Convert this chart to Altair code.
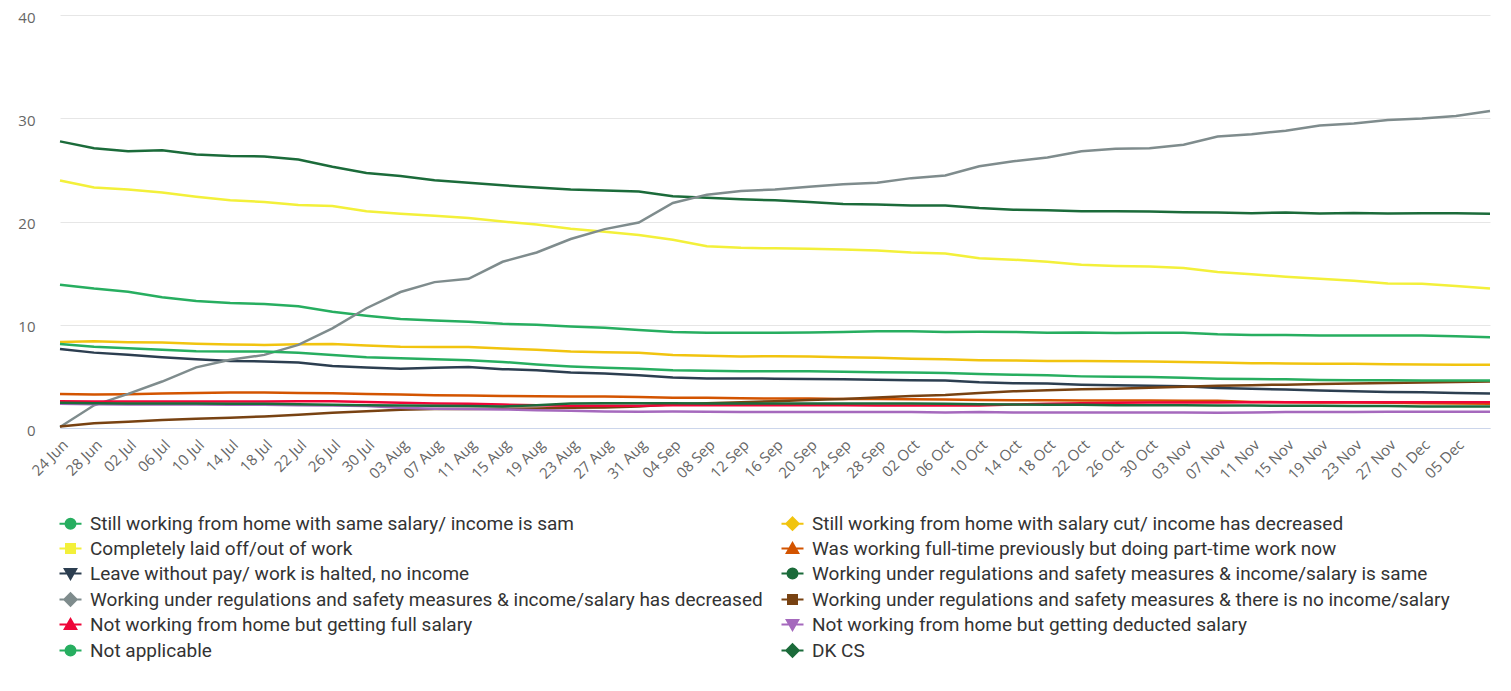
import altair as alt
import pandas as pd

DATES = [
    "2020-06-24", "2020-06-28", "2020-07-02", "2020-07-06", "2020-07-10", "2020-07-14",
    "2020-07-18", "2020-07-22", "2020-07-26", "2020-07-30", "2020-08-03", "2020-08-07",
    "2020-08-11", "2020-08-15", "2020-08-19", "2020-08-23", "2020-08-27", "2020-08-31",
    "2020-09-04", "2020-09-08", "2020-09-12", "2020-09-16", "2020-09-20", "2020-09-24",
    "2020-09-28", "2020-10-02", "2020-10-06", "2020-10-10", "2020-10-14", "2020-10-18",
    "2020-10-22", "2020-10-26", "2020-10-30", "2020-11-03", "2020-11-07", "2020-11-11",
    "2020-11-15", "2020-11-19", "2020-11-23", "2020-11-27", "2020-12-01", "2020-12-05",
    "2020-12-09",
]

TICK_DATES = [
    "2020-06-24", "2020-06-28", "2020-07-02", "2020-07-06", "2020-07-10", "2020-07-14",
    "2020-07-18", "2020-07-22", "2020-07-26", "2020-07-30", "2020-08-03", "2020-08-07",
    "2020-08-11", "2020-08-15", "2020-08-19", "2020-08-23", "2020-08-27", "2020-08-31",
    "2020-09-04", "2020-09-08", "2020-09-12", "2020-09-16", "2020-09-20", "2020-09-24",
    "2020-09-28", "2020-10-02", "2020-10-06", "2020-10-10", "2020-10-14", "2020-10-18",
    "2020-10-22", "2020-10-26", "2020-10-30", "2020-11-03", "2020-11-07", "2020-11-11",
    "2020-11-15", "2020-11-19", "2020-11-23", "2020-11-27", "2020-12-01", "2020-12-05",
]

Y_TICKS = [0, 10, 20, 30, 40]

SERIES = [
    "Still working from home with same salary/ income is sam",
    "Still working from home with salary cut/ income has decreased",
    "Completely laid off/out of work",
    "Was working full-time previously but doing part-time work now",
    "Leave without pay/ work is halted, no income",
    "Working under regulations and safety measures & income/salary is same",
    "Working under regulations and safety measures & income/salary has decreased",
    "Working under regulations and safety measures & there is no income/salary",
    "Not working from home but getting full salary",
    "Not working from home but getting deducted salary",
    "Not applicable",
    "DK CS",
]

COLORS = [
    "#27ae60", "#f1c40f", "#f3f03a", "#d35400", "#2c3e50", "#1b6b3a",
    "#7f8c8d", "#784212", "#ee0638", "#a569bd", "#27ae60", "#1b6b3a",
]

CIRCLE = "M-2.2,0H2.2M-1,0A1,1,0,1,0,1,0A1,1,0,1,0,-1,0Z"
DIAMOND = "M-2.2,0H2.2M0,-1.25L1.25,0L0,1.25L-1.25,0Z"
SQUARE = "M-2.2,0H2.2M-0.9,-0.9H0.9V0.9H-0.9Z"
TRIANGLE = "M-2.2,0H2.2M0,-1.1L1.15,0.9H-1.15Z"
TRIANGLE_DOWN = "M-2.2,0H2.2M0,1.1L1.15,-0.9H-1.15Z"
SHAPES = [CIRCLE, DIAMOND, SQUARE, TRIANGLE, TRIANGLE_DOWN,
          CIRCLE, DIAMOND, SQUARE, TRIANGLE, TRIANGLE_DOWN,
          CIRCLE, DIAMOND]

# legend is filled column by column: left column first, then right column
LEGEND_ORDER = [0, 2, 4, 6, 8, 10, 1, 3, 5, 7, 9, 11]

wfh_same = [13.88, 13.5, 13.2, 12.66, 12.3, 12.1, 12.0, 11.8, 11.25, 10.87,
            10.55, 10.4, 10.3, 10.1, 10.0, 9.84, 9.7, 9.5, 9.3, 9.23,
            9.23, 9.23, 9.26, 9.3, 9.36, 9.36, 9.3, 9.33, 9.3, 9.23,
            9.26, 9.2, 9.23, 9.23, 9.07, 9.0, 9.0, 8.97, 8.97, 8.97,
            8.97, 8.88, 8.78]
wfh_cut = [8.33, 8.4, 8.3, 8.27, 8.17, 8.08, 8.05, 8.1, 8.14, 8.0,
           7.88, 7.85, 7.85, 7.7, 7.57, 7.4, 7.34, 7.28, 7.08, 7.0,
           6.92, 6.95, 6.92, 6.86, 6.8, 6.7, 6.66, 6.57, 6.54, 6.5,
           6.5, 6.47, 6.44, 6.4, 6.35, 6.28, 6.25, 6.22, 6.22, 6.18,
           6.15, 6.12, 6.12]
laid_off = [23.97, 23.3, 23.1, 22.8, 22.4, 22.05, 21.9, 21.6, 21.5, 21.0,
            20.74, 20.55, 20.35, 20.0, 19.7, 19.3, 19.0, 18.7, 18.24, 17.6,
            17.45, 17.4, 17.35, 17.3, 17.2, 17.0, 16.9, 16.45, 16.3, 16.1,
            15.8, 15.7, 15.65, 15.5, 15.1, 14.9, 14.65, 14.45, 14.25, 14.0,
            13.97, 13.75, 13.5]
part_time = [3.3, 3.24, 3.27, 3.33, 3.4, 3.43, 3.43, 3.4, 3.37, 3.3,
             3.24, 3.17, 3.14, 3.1, 3.08, 3.04, 3.04, 3.0, 2.94, 2.92,
             2.88, 2.85, 2.85, 2.82, 2.82, 2.79, 2.76, 2.72, 2.69, 2.69,
             2.66, 2.66, 2.66, 2.63, 2.63, 2.53, 2.5, 2.47, 2.47, 2.44,
             2.4, 2.37, 2.34]
leave_no_pay = [7.66, 7.3, 7.1, 6.86, 6.66, 6.5, 6.44, 6.35, 6.0, 5.87,
                5.74, 5.83, 5.9, 5.7, 5.6, 5.38, 5.29, 5.1, 4.9, 4.8,
                4.8, 4.78, 4.74, 4.71, 4.68, 4.62, 4.59, 4.42, 4.33, 4.3,
                4.2, 4.13, 4.1, 4.04, 3.88, 3.8, 3.72, 3.62, 3.56, 3.49,
                3.46, 3.4, 3.33]
reg_same = [27.76, 27.1, 26.8, 26.9, 26.5, 26.35, 26.3, 26.0, 25.3, 24.7,
            24.4, 24.0, 23.75, 23.5, 23.3, 23.1, 23.0, 22.9, 22.45, 22.3,
            22.15, 22.05, 21.9, 21.7, 21.65, 21.55, 21.55, 21.3, 21.15, 21.1,
            21.0, 21.0, 20.96, 20.9, 20.87, 20.8, 20.87, 20.77, 20.83, 20.77,
            20.8, 20.8, 20.74]
reg_decreased = [0.1, 2.2, 3.3, 4.5, 5.87, 6.6, 7.08, 8.05, 9.65, 11.6,
                 13.17, 14.13, 14.45, 16.1, 17.0, 18.3, 19.26, 19.9, 21.8, 22.6,
                 22.95, 23.1, 23.37, 23.6, 23.75, 24.2, 24.45, 25.35, 25.84, 26.2,
                 26.8, 27.05, 27.1, 27.43, 28.24, 28.46, 28.8, 29.3, 29.5, 29.84,
                 29.97, 30.22, 30.7]
reg_no_income = [0.15, 0.45, 0.61, 0.77, 0.9, 0.99, 1.12, 1.28, 1.47, 1.63,
                 1.76, 1.83, 1.83, 1.86, 1.89, 1.96, 1.99, 2.08, 2.3, 2.4,
                 2.5, 2.6, 2.7, 2.8, 2.95, 3.1, 3.2, 3.4, 3.55, 3.65,
                 3.75, 3.8, 3.9, 4.0, 4.1, 4.15, 4.2, 4.25, 4.3, 4.35,
                 4.4, 4.45, 4.5]
full_salary = [2.6, 2.56, 2.56, 2.56, 2.56, 2.56, 2.56, 2.6, 2.6, 2.53,
               2.44, 2.37, 2.34, 2.27, 2.21, 2.15, 2.15, 2.15, 2.21, 2.21,
               2.21, 2.21, 2.21, 2.21, 2.18, 2.18, 2.18, 2.18, 2.27, 2.34,
               2.4, 2.44, 2.47, 2.47, 2.47, 2.5, 2.5, 2.5, 2.5, 2.5,
               2.5, 2.5, 2.5]
deducted_salary = [2.34, 2.31, 2.27, 2.27, 2.27, 2.24, 2.24, 2.21, 2.18, 2.12,
                   1.96, 1.86, 1.83, 1.8, 1.73, 1.67, 1.6, 1.57, 1.6, 1.57,
                   1.54, 1.54, 1.54, 1.54, 1.54, 1.54, 1.5, 1.54, 1.5, 1.5,
                   1.5, 1.5, 1.5, 1.5, 1.47, 1.5, 1.54, 1.54, 1.54, 1.57,
                   1.57, 1.57, 1.57]
not_applicable = [8.14, 7.88, 7.72, 7.57, 7.44, 7.4, 7.4, 7.28, 7.08, 6.86,
                  6.76, 6.66, 6.57, 6.4, 6.15, 5.96, 5.83, 5.74, 5.6, 5.54,
                  5.5, 5.5, 5.5, 5.45, 5.4, 5.38, 5.32, 5.22, 5.16, 5.1,
                  5.0, 4.97, 4.93, 4.87, 4.78, 4.74, 4.71, 4.64, 4.62, 4.62,
                  4.59, 4.59, 4.59]
dk_cs = [2.44, 2.4, 2.37, 2.37, 2.37, 2.34, 2.34, 2.31, 2.24, 2.21,
         2.18, 2.15, 2.12, 2.08, 2.21, 2.37, 2.4, 2.4, 2.4, 2.37,
         2.37, 2.37, 2.37, 2.37, 2.37, 2.37, 2.34, 2.31, 2.27, 2.24,
         2.24, 2.21, 2.21, 2.21, 2.18, 2.18, 2.15, 2.15, 2.12, 2.12,
         2.08, 2.08, 2.08]

VALUES = [wfh_same, wfh_cut, laid_off, part_time, leave_no_pay, reg_same,
          reg_decreased, reg_no_income, full_salary, deducted_salary,
          not_applicable, dk_cs]

rows = []
for order, (name, col, vals) in enumerate(zip(SERIES, COLORS, VALUES)):
    for d, v in zip(DATES, vals):
        rows.append({"date": d, "value": v, "series": name, "color": col, "order": order})
df = pd.DataFrame(rows)

leg_domain = [SERIES[i] for i in LEGEND_ORDER]
leg_colors = [COLORS[i] for i in LEGEND_ORDER]
leg_shapes = [SHAPES[i] for i in LEGEND_ORDER]

tick_ms = [int(pd.Timestamp(t, tz="UTC").timestamp() * 1000) for t in TICK_DATES]
x_domain = [int(pd.Timestamp(DATES[0], tz="UTC").timestamp() * 1000),
            int(pd.Timestamp(DATES[-1], tz="UTC").timestamp() * 1000)]

AXIS_FONT = "Open Sans"
LEGEND_FONT = "Roboto"

x_enc = alt.X(
    "date:T",
    scale=alt.Scale(type="utc", domain=x_domain, nice=False),
    axis=alt.Axis(
        values=tick_ms, format="%d %b", labelAngle=-45, labelFontSize=15,
        labelColor="#666666", labelFont=AXIS_FONT, grid=False, ticks=False,
        domainColor="#ccd6eb", domainWidth=1, labelPadding=9, title=None,
        labelOverlap=False,
    ),
)
y_enc = alt.Y(
    "value:Q",
    scale=alt.Scale(domain=[0, 40], nice=False),
    axis=alt.Axis(
        values=Y_TICKS, grid=True, gridColor="#e6e6e6", gridWidth=1,
        domain=False, ticks=False, labelPadding=25, labelFontSize=15,
        labelColor="#666666", labelFont=AXIS_FONT, title=None, labelOffset=2,
    ),
)

legend = alt.Legend(
    title=None, orient="none", legendX=1, legendY=499, columns=2,
    columnPadding=14, rowPadding=5, symbolSize=100, symbolStrokeWidth=2,
    labelFont=LEGEND_FONT, labelFontSize=19, labelColor="#333333",
    labelLimit=0, labelOffset=10, padding=0,
)

lines = alt.Chart(df).mark_line(strokeWidth=2.5, interpolate="linear").encode(
    x=x_enc,
    y=y_enc,
    color=alt.Color("color:N", scale=None),
    detail="series:N",
    order=alt.Order("date:T"),
)

points = alt.Chart(df).mark_point(
    filled=True, size=0, strokeWidth=2, opacity=1
).encode(
    x=x_enc,
    y=y_enc,
    fill=alt.Fill("series:N", scale=alt.Scale(domain=leg_domain, range=leg_colors), legend=legend),
    stroke=alt.Stroke("series:N", scale=alt.Scale(domain=leg_domain, range=leg_colors), legend=legend),
    shape=alt.Shape("series:N", scale=alt.Scale(domain=leg_domain, range=leg_shapes), legend=legend),
)

chart = alt.layer(lines, points).properties(
    width=1430, height=413,
    padding={"left": 9, "top": 2, "right": 5, "bottom": 5},
).configure_view(stroke=None)

chart.save("out.html", embed_options={"renderer": "svg", "actions": False})
